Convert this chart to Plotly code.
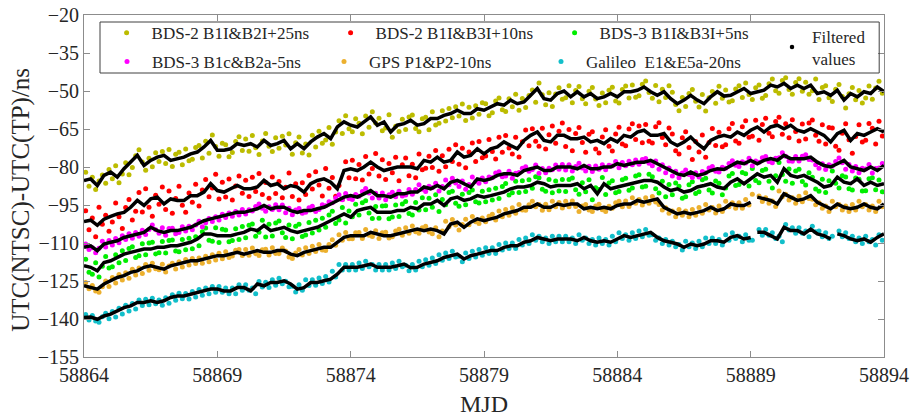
import plotly.graph_objects as go

# ---------------------------------------------------------------------------
# Time grid: filtered values every 6 h, raw comparison values every 3 h
# ---------------------------------------------------------------------------
MJD_START = 58864
MJD_END = 58894
LINE_STEP = 0.25
RAW_STEP = 0.125

line_mjd = [MJD_START + LINE_STEP * i for i in range(121)]
raw_mjd = [MJD_START + RAW_STEP / 2 + RAW_STEP * i for i in range(240)]

series_names = [
    "BDS-2 B1I&B2I+25ns",
    "BDS-2 B1I&B3I+10ns",
    "BDS-3 B1I&B3I+5ns",
    "BDS-3 B1c&B2a-5ns",
    "GPS P1&P2-10ns",
    "Galileo  E1&E5a-20ns",
]
series_colors = ["#bcbc00", "#ff0000", "#00ee00", "#ff00ff", "#ecb02e", "#12bfca"]

# --- raw comparison values (ns), one row per day -----------------------------
raw_bds2_b2i = [
    -82.1, -87.6, -84.0, -88.9, -85.5, -83.2, -86.4, -81.0,
    -84.6, -79.5, -86.2, -82.8, -78.3, -83.1, -80.2, -75.6,
    -73.2, -78.0, -81.3, -76.5, -79.9, -74.4, -77.8, -73.9,
    -78.6, -73.1, -79.8, -75.0, -74.2, -79.1, -72.9, -77.5,
    -76.9, -72.3, -71.5, -76.4, -69.8, -74.6, -67.4, -71.9,
    -75.8, -70.6, -71.2, -76.0, -74.3, -69.9, -68.1, -73.5,
    -68.9, -73.8, -67.6, -72.4, -75.1, -69.7, -66.8, -71.8,
    -73.9, -68.5, -72.6, -67.9, -71.3, -66.9, -75.0, -70.4,
    -68.2, -74.5, -70.9, -75.3, -67.5, -72.1, -65.9, -70.6,
    -69.3, -64.4, -71.0, -66.2, -61.7, -66.8, -59.8, -64.9,
    -66.1, -61.0, -62.7, -66.9, -59.9, -64.3, -58.2, -62.6,
    -60.8, -65.7, -64.6, -59.4, -68.3, -63.9, -66.0, -61.2,
    -65.2, -60.3, -59.5, -64.8, -66.1, -61.0, -60.4, -65.3,
    -58.2, -63.4, -62.7, -57.8, -61.8, -56.9, -60.6, -56.2,
    -59.9, -55.1, -61.6, -56.4, -60.7, -55.8, -59.2, -54.6,
    -55.0, -59.8, -58.6, -53.9, -52.8, -57.4, -58.1, -53.1,
    -56.2, -51.3, -57.6, -53.0, -56.5, -51.8, -49.6, -54.4,
    -46.8, -51.5, -55.4, -50.7, -56.1, -51.2, -48.7, -53.3,
    -52.7, -47.9, -54.6, -49.8, -48.2, -53.1, -55.0, -50.1,
    -48.6, -53.2, -55.7, -50.8, -54.6, -49.7, -48.5, -53.9,
    -54.7, -49.4, -48.0, -52.8, -47.6, -52.5, -51.9, -47.3,
    -46.1, -50.6, -52.9, -47.8, -54.2, -49.3, -52.6, -47.9,
    -50.5, -55.3, -57.8, -52.6, -56.1, -51.0, -49.4, -54.0,
    -56.3, -51.4, -57.9, -52.7, -50.2, -54.8, -48.1, -52.9,
    -49.6, -54.3, -53.8, -49.2, -47.9, -52.6, -46.8, -51.4,
    -53.4, -48.7, -47.6, -52.9, -51.8, -47.1, -45.3, -49.9,
    -50.9, -45.9, -44.8, -49.4, -51.3, -46.6, -45.2, -50.1,
    -46.5, -51.3, -49.9, -45.3, -53.4, -48.6, -47.9, -52.7,
    -54.1, -49.3, -47.4, -52.2, -56.7, -51.1, -48.6, -53.5,
    -49.8, -54.7, -52.8, -48.0, -53.3, -48.8, -46.2, -50.9,
]
raw_bds2_b3i = [
    -97.3, -104.8, -100.1, -107.5, -95.9, -102.6, -99.0, -105.4,
    -101.7, -94.2, -99.6, -104.3, -96.0, -92.8, -100.9, -97.5,
    -90.1, -97.8, -88.6, -95.9, -99.4, -91.2, -94.7, -87.9,
    -96.8, -89.5, -98.3, -92.4, -87.6, -95.1, -97.9, -90.3,
    -93.9, -86.8, -95.4, -89.1, -84.9, -91.7, -88.3, -82.9,
    -92.6, -86.0, -91.8, -84.7, -93.0, -87.5, -83.6, -90.4,
    -85.2, -91.6, -84.0, -89.7, -82.6, -90.9, -86.1, -92.3,
    -83.9, -90.5, -85.7, -92.1, -88.0, -82.4, -91.6, -86.6,
    -93.0, -86.2, -90.9, -83.4, -88.7, -81.9, -87.1, -91.4,
    -80.6, -88.4, -84.1, -91.5, -87.3, -92.8, -77.9, -84.2,
    -77.3, -84.6, -79.0, -85.1, -75.9, -82.8, -80.6, -74.7,
    -83.6, -77.1, -84.9, -78.6, -82.3, -76.2, -85.4, -79.1,
    -76.4, -83.5, -78.9, -84.2, -74.9, -81.1, -80.5, -75.8,
    -80.2, -73.5, -81.7, -75.6, -79.9, -73.0, -77.8, -71.2,
    -78.9, -72.6, -80.3, -74.1, -70.5, -77.8, -69.9, -76.3,
    -75.7, -69.1, -73.9, -76.8, -68.3, -74.2, -67.6, -72.5,
    -74.9, -68.3, -76.1, -70.0, -65.4, -71.6, -64.9, -69.8,
    -71.8, -64.7, -72.9, -67.3, -63.8, -70.6, -65.9, -62.6,
    -71.9, -65.2, -73.6, -66.8, -64.4, -70.3, -74.2, -67.1,
    -66.1, -72.9, -74.5, -68.2, -65.3, -71.8, -73.7, -67.0,
    -64.3, -70.9, -71.6, -65.0, -62.9, -69.1, -63.8, -70.4,
    -63.2, -69.8, -70.5, -64.1, -62.5, -68.4, -71.2, -64.6,
    -67.0, -73.6, -74.9, -68.5, -66.1, -72.3, -77.0, -69.9,
    -74.1, -67.4, -76.2, -70.3, -64.8, -71.5, -66.3, -72.0,
    -71.2, -64.9, -62.8, -69.7, -70.6, -64.1, -61.7, -68.3,
    -67.9, -61.5, -69.4, -63.2, -60.8, -66.7, -68.1, -62.0,
    -60.4, -67.1, -62.9, -68.5, -61.3, -66.0, -69.7, -63.0,
    -68.9, -62.6, -61.4, -67.5, -69.8, -63.3, -70.9, -64.4,
    -64.6, -71.8, -73.4, -66.7, -62.9, -69.2, -74.6, -68.0,
    -63.3, -70.1, -69.4, -62.8, -64.7, -70.9, -61.9, -67.8,
]
raw_bds3_b3i = [
    -116.4, -121.5, -122.3, -117.8, -123.4, -119.2, -115.3, -119.9,
    -119.4, -114.6, -117.8, -113.1, -116.9, -112.2, -111.5, -115.7,
    -115.0, -110.3, -114.6, -110.0, -109.7, -114.3, -113.8, -109.4,
    -113.9, -109.0, -108.8, -113.2, -113.5, -108.6, -112.7, -108.1,
    -112.3, -107.5, -111.1, -105.6, -104.1, -108.9, -109.3, -104.0,
    -109.8, -104.6, -104.9, -109.5, -109.0, -104.4, -108.6, -103.5,
    -107.9, -103.0, -102.5, -107.3, -105.8, -101.0, -107.6, -102.6,
    -107.2, -102.1, -101.3, -106.0, -107.8, -102.9, -108.3, -103.4,
    -102.6, -107.4, -106.8, -101.9, -106.1, -101.0, -104.9, -100.2,
    -103.8, -98.9, -97.5, -102.3, -100.9, -96.0, -102.1, -97.4,
    -99.6, -94.7, -98.9, -94.1, -93.3, -98.2, -100.3, -95.6,
    -100.2, -95.4, -95.3, -100.4, -99.7, -95.0, -99.5, -94.6,
    -93.6, -98.4, -98.9, -94.0, -97.0, -92.1, -96.9, -92.3,
    -95.9, -91.0, -97.6, -92.8, -94.9, -90.1, -89.6, -94.3,
    -95.5, -90.8, -94.9, -90.1, -89.1, -93.7, -94.2, -89.6,
    -93.7, -89.0, -93.0, -88.4, -92.4, -87.7, -86.5, -91.1,
    -90.2, -85.6, -90.1, -85.4, -89.7, -85.0, -88.4, -83.8,
    -84.2, -88.8, -89.6, -84.9, -90.2, -85.5, -89.5, -84.9,
    -89.7, -84.9, -84.3, -89.0, -90.8, -86.2, -89.8, -85.0,
    -92.9, -88.2, -88.9, -84.1, -90.9, -86.3, -85.4, -90.2,
    -89.7, -85.0, -84.4, -89.2, -88.3, -83.6, -83.1, -87.9,
    -87.6, -82.9, -83.8, -88.6, -90.3, -85.6, -91.7, -86.9,
    -91.0, -86.3, -87.6, -92.3, -91.7, -87.0, -85.8, -90.5,
    -89.8, -85.0, -84.4, -89.1, -90.3, -85.5, -86.4, -91.0,
    -88.3, -83.6, -82.6, -87.3, -86.9, -82.2, -82.7, -87.5,
    -80.6, -85.3, -86.2, -81.4, -80.9, -85.6, -88.3, -83.5,
    -78.2, -83.0, -85.6, -80.8, -86.4, -81.6, -80.9, -85.7,
    -87.1, -82.3, -84.0, -88.7, -89.6, -84.8, -90.1, -85.4,
    -81.6, -86.4, -88.3, -83.5, -83.9, -88.6, -89.1, -84.3,
    -84.8, -89.5, -89.4, -84.6, -84.2, -89.0, -85.1, -89.8,
]
raw_bds3_b2a = [
    -110.4, -112.6, -111.9, -113.8, -112.1, -109.3, -111.6, -109.0,
    -110.8, -108.2, -109.9, -107.1, -108.6, -106.3, -108.1, -105.9,
    -107.3, -105.0, -106.6, -104.7, -102.9, -104.8, -106.2, -104.0,
    -106.9, -104.3, -104.2, -106.3, -105.9, -103.6, -105.3, -103.4,
    -104.8, -102.9, -101.4, -103.6, -102.0, -100.3, -101.5, -99.6,
    -100.9, -98.7, -99.9, -98.2, -99.4, -97.6, -98.9, -96.8,
    -98.6, -96.9, -97.4, -95.6, -94.6, -96.3, -97.5, -95.7,
    -96.8, -94.9, -96.9, -95.0, -98.1, -96.3, -98.8, -97.0,
    -96.4, -98.3, -97.9, -96.1, -95.5, -97.6, -96.8, -94.9,
    -95.3, -93.7, -94.1, -92.2, -91.0, -92.9, -90.5, -92.4,
    -92.8, -90.9, -91.5, -89.7, -88.5, -90.3, -92.2, -90.4,
    -92.2, -90.3, -92.9, -91.0, -90.0, -91.7, -89.6, -91.4,
    -91.1, -88.9, -90.8, -88.9, -87.0, -88.8, -89.7, -87.6,
    -88.2, -86.4, -89.5, -87.7, -85.1, -87.0, -84.4, -86.3,
    -87.7, -85.5, -88.8, -86.9, -83.9, -85.7, -86.4, -84.3,
    -85.8, -83.9, -84.2, -82.4, -81.9, -83.8, -83.6, -81.7,
    -84.4, -82.5, -82.2, -80.5, -79.9, -81.7, -81.0, -79.2,
    -82.5, -80.6, -82.3, -80.5, -81.1, -79.2, -80.9, -79.0,
    -81.2, -79.1, -81.6, -79.8, -78.5, -80.4, -81.6, -79.7,
    -81.8, -79.6, -80.9, -79.1, -81.1, -79.3, -79.6, -77.8,
    -80.3, -78.2, -79.5, -77.7, -79.1, -77.2, -78.9, -77.0,
    -76.6, -78.5, -79.5, -77.6, -80.9, -79.1, -82.3, -80.4,
    -83.6, -81.7, -84.2, -82.4, -81.2, -83.0, -84.1, -82.3,
    -83.9, -81.8, -82.3, -80.4, -79.8, -81.7, -82.0, -80.1,
    -80.5, -78.6, -77.5, -79.3, -79.8, -77.9, -78.4, -76.5,
    -79.5, -77.6, -78.1, -76.3, -75.9, -77.8, -78.3, -76.5,
    -76.3, -74.4, -75.8, -77.6, -77.7, -75.9, -77.6, -75.8,
    -75.2, -77.0, -77.2, -79.1, -80.5, -78.7, -81.0, -79.1,
    -79.6, -77.8, -76.4, -78.3, -80.9, -79.0, -81.6, -79.8,
    -82.3, -80.5, -80.8, -79.0, -82.4, -80.6, -80.4, -78.6,
]
raw_gps_p1p2 = [
    -125.6, -128.1, -126.8, -128.9, -129.4, -127.3, -125.0, -127.2,
    -123.6, -125.8, -122.4, -124.6, -121.7, -123.9, -120.4, -122.6,
    -119.9, -122.0, -118.5, -120.8, -118.0, -120.2, -120.6, -118.4,
    -121.4, -119.1, -118.0, -120.3, -117.4, -119.5, -116.5, -118.7,
    -116.1, -118.1, -115.9, -118.0, -115.2, -117.4, -114.6, -116.7,
    -114.0, -116.2, -113.5, -115.7, -115.1, -112.9, -112.6, -114.9,
    -112.6, -114.8, -112.0, -114.2, -114.9, -112.7, -112.5, -114.7,
    -111.9, -114.1, -114.2, -112.0, -113.2, -115.5, -116.1, -113.9,
    -112.6, -114.7, -111.9, -114.1, -111.3, -113.4, -110.6, -112.8,
    -113.0, -110.6, -108.7, -110.9, -106.7, -108.9, -105.9, -108.3,
    -108.3, -106.0, -105.9, -108.2, -104.7, -106.9, -107.4, -105.2,
    -108.2, -106.0, -105.8, -108.0, -107.5, -105.3, -104.6, -106.9,
    -104.0, -106.2, -103.3, -105.6, -106.2, -104.0, -103.4, -105.7,
    -106.3, -104.0, -107.5, -105.3, -101.4, -103.6, -100.7, -102.9,
    -104.9, -102.7, -100.6, -102.8, -99.5, -101.6, -102.3, -100.1,
    -101.6, -99.4, -98.7, -100.9, -97.4, -99.6, -96.8, -99.0,
    -96.1, -98.3, -94.8, -97.0, -97.1, -94.9, -93.5, -95.7,
    -94.8, -97.1, -94.7, -96.9, -93.5, -95.7, -94.0, -96.2,
    -93.5, -95.7, -93.4, -95.6, -97.6, -95.4, -94.8, -97.0,
    -97.6, -95.4, -94.7, -96.9, -97.6, -95.5, -96.3, -94.1,
    -93.5, -95.7, -93.4, -95.6, -92.1, -94.3, -92.8, -95.0,
    -92.1, -94.3, -91.6, -93.8, -94.8, -97.0, -96.1, -98.3,
    -97.4, -99.6, -96.8, -99.0, -97.4, -99.6, -96.8, -99.0,
    -96.0, -98.3, -94.8, -97.0, -96.0, -98.2, -95.4, -97.6,
    -93.5, -95.7, -94.1, -96.3, -94.1, -96.3, -92.8, -95.0,
    -90.8, None, -91.4, -93.6, -92.1, -94.3, -93.4, -95.6,
    -89.5, -91.7, -90.8, -93.0, -92.1, -94.3, -91.5, -93.7,
    -90.2, -92.4, -92.7, -94.9, -94.1, -96.3, -95.4, -97.6,
    -93.5, -95.7, -94.8, -97.0, -95.4, -97.6, -94.8, -97.0,
    -93.5, -95.7, -94.8, -97.0, -95.4, -97.6, -93.5, -95.7,
]
raw_gal_e5a = [
    -138.2, -140.4, -138.6, -140.8, -141.3, -139.1, -137.7, -139.9,
    -137.0, -139.2, -135.8, -138.0, -134.6, -136.8, -133.9, -136.1,
    -132.5, -134.7, -132.2, -134.4, -131.8, -134.0, -132.5, -134.6,
    -131.6, -133.8, -130.4, -132.6, -129.8, -132.0, -129.9, -132.1,
    -129.1, -131.3, -128.4, -130.6, -127.8, -130.0, -127.2, -129.4,
    -127.2, -129.4, -127.8, -130.0, -127.8, -130.0, -126.5, -128.7,
    -126.5, -128.7, -127.8, -130.0, -125.2, -127.4, -125.5, -127.6,
    -124.5, -126.7, -123.9, -126.1, -125.1, -127.3, -127.1, -129.3,
    -126.5, -128.7, -124.5, -126.8, -124.5, -126.7, -123.8, -126.0,
    -123.2, -125.4, -121.2, -123.4, -118.5, -120.7, -118.5, -120.7,
    -118.5, -120.7, -117.9, -120.1, -117.2, -119.4, -118.5, -120.7,
    -118.5, -120.7, -118.5, -120.7, -117.9, -120.1, -117.2, -119.4,
    -118.8, -121.0, -118.5, -120.7, -117.2, -119.4, -116.6, -118.8,
    -115.9, -118.1, -114.6, -116.8, -113.9, -116.1, -113.3, -115.5,
    -115.2, -117.4, -113.9, -116.1, -113.3, -115.5, -112.6, -114.8,
    -111.9, -114.1, -111.9, -114.1, -110.6, -112.8, -110.0, -112.2,
    -110.0, -112.2, -108.6, -110.8, -108.0, -110.2, -106.7, -108.9,
    -107.3, -109.5, -108.0, -110.2, -107.3, -109.5, -107.3, -109.5,
    -107.3, -109.5, -108.0, -110.2, -106.7, -108.9, -108.0, -110.2,
    -108.6, -110.8, -108.0, -110.2, -108.6, -110.8, -107.3, -109.5,
    -106.0, -108.2, -106.7, -108.9, -106.0, -108.2, -105.3, -107.5,
    -104.7, -106.9, -106.7, -108.9, -108.0, -110.2, -108.6, -110.8,
    -109.3, -111.5, -110.6, -112.8, -109.3, -111.5, -110.0, -112.2,
    -109.3, -111.5, -108.0, -110.2, -108.0, -110.2, -108.6, -110.8,
    -106.7, -108.9, -106.0, -108.2, -107.3, -109.5, -106.7, -108.9,
    -108.9, None, -104.7, -106.9, -104.7, -106.9, -106.0, -108.2,
    -107.3, -109.5, -102.7, -104.9, -104.0, -106.2, -104.0, -106.2,
    -105.3, -107.5, -103.4, -105.6, -105.3, -107.5, -106.0, -108.2,
    -107.3, None, -105.3, -107.5, -106.0, -108.2, -107.3, -109.5,
    -108.0, -110.2, -107.3, -109.5, -108.6, -110.8, -106.7, -108.9,
]

# --- filtered values (ns), 6-hourly ------------------------------------------
flt_bds2_b2i = [
    -85.3, -84.7, -87.3, -83.3, -82.0, -84.0, -80.7, -78.1, -75.4, -79.4,
    -77.4, -76.1, -75.4, -77.4, -76.7, -76.1, -74.8, -74.1, -72.1, -69.5,
    -73.4, -73.4, -72.8, -70.8, -71.5,
    -70.8, -72.1, -69.5, -71.5, -70.8, -69.5, -72.8, -70.8, -72.8, -70.1,
    -68.2, -66.8, -68.8, -64.2, -62.2, -63.5, -64.2, -62.2, -60.2, -63.5,
    -62.2, -66.2, -63.5, -62.9,
    -61.6, -63.5, -62.9, -60.9, -60.9, -59.6, -58.9, -57.6, -58.9, -58.9,
    -57.0, -57.6, -56.3, -55.0, -55.6, -53.6, -55.0, -54.3, -51.7, -49.0,
    -53.0, -53.6, -51.0, -50.0,
    -52.3, -50.3, -52.3, -51.0, -53.0, -52.3, -51.0, -52.3, -50.3, -50.3,
    -49.7, -48.4, -50.3, -51.7, -50.3, -53.0, -55.0, -53.6, -51.7, -53.6,
    -55.0, -52.3, -50.3, -52.0,
    -51.7, -50.3, -49.0, -51.0, -50.3, -49.7, -47.7, -48.4, -47.0, -49.0,
    -47.7, -49.0, -47.7, -51.0, -50.3, -51.7, -49.7, -53.6, -51.0, -52.3,
    -50.3, -51.0, -48.4, -50.3,
]
flt_bds2_b3i = [
    -101.5, -101.0, -103.0, -100.6, -99.5, -98.5, -97.9, -95.9, -93.2, -95.2,
    -92.6, -91.9, -94.6, -92.6, -93.2, -93.2, -91.3, -91.3, -89.9, -86.6,
    -89.3, -89.9, -88.6, -87.3, -88.6,
    -88.6, -87.9, -85.3, -87.3, -86.6, -88.6, -87.3, -87.9, -89.9, -86.6,
    -85.3, -84.7, -86.0, -88.6, -81.4, -80.7, -81.4, -80.0, -78.1, -80.0,
    -81.4, -80.7, -80.0, -80.0,
    -80.0, -80.7, -77.4, -78.1, -76.1, -78.1, -77.4, -74.1, -76.1, -75.4,
    -72.8, -74.8, -72.8, -72.1, -70.1, -71.5, -72.8, -69.5, -67.5, -66.2,
    -69.5, -70.1, -67.5, -67.5,
    -68.8, -68.8, -68.2, -70.1, -69.5, -70.8, -68.8, -70.1, -67.5, -68.2,
    -66.2, -65.5, -67.5, -67.5, -66.8, -70.1, -71.5, -70.1, -68.2, -70.8,
    -72.8, -69.5, -68.2, -67.5,
    -68.2, -66.2, -67.5, -65.5, -64.2, -66.2, -64.2, -63.5, -64.9, -63.5,
    -65.5, -66.2, -64.9, -66.2, -67.5, -70.1, -66.8, -65.5, -69.5, -66.8,
    -67.5, -66.2, -64.9, -66.2,
]
flt_bds3_b3i = [
    -119.0, -119.6, -121.0, -117.7, -117.0, -115.7, -114.4, -113.7, -113.0, -112.4,
    -112.4, -111.7, -111.7, -111.1, -111.1, -110.4, -109.7, -108.4, -106.4, -106.4,
    -107.1, -107.1, -107.1, -106.4, -105.8,
    -104.5, -105.1, -103.1, -105.1, -104.5, -103.8, -105.1, -105.8, -105.1, -104.5,
    -103.8, -102.5, -101.2, -99.8, -98.5, -99.8, -97.2, -96.5, -95.9, -97.9,
    -97.9, -97.9, -97.2, -97.2,
    -95.9, -96.5, -94.6, -94.6, -93.2, -95.2, -92.6, -91.9, -93.2, -92.6,
    -91.3, -91.9, -91.3, -90.6, -89.9, -88.6, -87.9, -87.9, -87.3, -86.0,
    -86.6, -87.9, -87.3, -87.3,
    -87.3, -86.6, -88.6, -87.3, -90.6, -86.6, -88.6, -87.9, -87.3, -86.6,
    -86.0, -85.3, -85.3, -86.0, -87.9, -89.3, -88.6, -89.9, -89.3, -87.9,
    -87.3, -86.6, -87.9, -88.5,
    -86.0, -84.7, -86.6, -84.7, -82.7, -84.0, -83.3, -86.0, -80.7, -83.3,
    -84.0, -83.3, -84.7, -86.0, -87.9, -87.3, -84.0, -86.0, -86.6, -84.7,
    -87.3, -86.0, -87.3, -86.6,
]
flt_bds3_b2a = [
    -111.7, -111.1, -113.0, -110.4, -109.7, -109.1, -107.8, -107.1, -106.4, -105.8,
    -103.8, -105.1, -105.8, -105.1, -105.1, -104.5, -103.8, -102.5, -101.2, -100.5,
    -99.8, -99.2, -98.5, -97.9, -97.9,
    -97.2, -96.5, -95.2, -96.5, -95.9, -95.9, -97.2, -97.9, -97.2, -97.2,
    -96.5, -95.9, -94.6, -93.2, -91.9, -91.3, -91.9, -90.6, -89.3, -91.3,
    -91.3, -91.9, -90.6, -90.6,
    -89.9, -89.9, -87.9, -88.6, -87.3, -88.6, -86.0, -85.3, -86.6, -87.9,
    -84.7, -85.3, -84.7, -83.3, -82.7, -82.7, -83.3, -81.4, -80.7, -80.0,
    -81.4, -81.4, -80.0, -80.0,
    -80.0, -80.7, -79.4, -80.7, -80.7, -80.0, -80.0, -78.7, -79.4, -78.7,
    -78.1, -78.1, -77.4, -78.7, -80.0, -81.4, -82.7, -83.3, -82.0, -83.3,
    -82.7, -81.4, -80.7, -81.0,
    -79.4, -78.1, -78.7, -77.4, -78.7, -77.4, -76.7, -77.4, -75.4, -76.7,
    -76.7, -76.7, -76.1, -78.1, -79.4, -80.0, -78.7, -77.4, -80.0, -80.7,
    -81.4, -80.0, -81.4, -79.4,
]
flt_gps_p1p2 = [
    -126.9, -127.6, -128.2, -126.2, -124.9, -123.6, -122.9, -121.6, -121.0, -119.6,
    -119.0, -119.6, -120.3, -119.0, -118.3, -117.7, -117.0, -117.0, -116.3, -115.7,
    -115.0, -115.0, -114.4, -113.7, -114.4,
    -113.7, -113.0, -113.7, -113.7, -113.0, -113.0, -114.4, -115.0, -113.7, -113.0,
    -112.4, -111.7, -111.7, -109.7, -107.8, -107.1, -107.1, -107.1, -105.8, -106.4,
    -107.1, -107.1, -106.4, -105.8,
    -105.1, -104.5, -105.1, -104.5, -105.1, -106.4, -102.5, -101.8, -103.8, -101.8,
    -100.5, -101.2, -100.5, -99.8, -98.5, -97.9, -97.2, -95.9, -95.9, -94.6,
    -95.9, -95.9, -94.6, -95.2,
    -94.6, -94.6, -96.5, -95.9, -96.5, -95.9, -96.5, -95.2, -94.6, -94.6,
    -93.2, -93.9, -93.2, -92.6, -95.9, -97.2, -98.5, -97.9, -98.5, -97.9,
    -97.2, -95.9, -97.2, -96.5,
    -94.6, -95.2, -95.2, -93.9, -91.9, -92.6, -93.2, -94.6, -90.6, -91.9,
    -93.2, -92.6, -91.3, -93.9, -95.2, -96.5, -94.6, -95.9, -96.5, -95.9,
    -94.6, -95.9, -96.5, -94.6,
]
flt_gal_e5a = [
    -139.4, -139.2, -140.1, -138.8, -138.1, -136.8, -135.5, -134.8, -133.5, -133.5,
    -132.8, -133.5, -132.8, -131.5, -130.9, -130.9, -130.2, -129.5, -128.9, -128.2,
    -128.2, -128.9, -128.9, -127.6, -127.6,
    -128.9, -126.2, -126.9, -125.6, -125.6, -124.9, -126.2, -128.2, -127.6, -125.6,
    -125.6, -124.9, -124.3, -122.3, -119.6, -119.6, -119.6, -119.0, -118.3, -119.6,
    -119.6, -119.6, -119.0, -118.3,
    -119.8, -119.6, -118.3, -117.7, -117.0, -115.7, -115.0, -114.4, -116.3, -115.0,
    -114.4, -113.7, -113.0, -113.0, -111.7, -111.1, -111.1, -109.7, -109.1, -107.8,
    -108.4, -109.1, -108.4, -108.4,
    -108.4, -109.1, -107.8, -109.1, -109.7, -109.1, -109.7, -108.4, -107.1, -107.8,
    -107.1, -106.4, -105.8, -107.8, -109.1, -109.7, -110.4, -111.7, -110.4, -111.1,
    -110.4, -109.1, -109.1, -109.7,
    -107.8, -107.1, -108.4, -107.8, -105.8, -105.8, -107.1, -108.4, -103.8, -105.1,
    -105.1, -106.4, -104.5, -106.4, -107.1, -108.4, -106.4, -107.1, -108.4, -109.1,
    -108.4, -109.7, -107.8, -106.4,
]

raw_values = [raw_bds2_b2i, raw_bds2_b3i, raw_bds3_b3i,
              raw_bds3_b2a, raw_gps_p1p2, raw_gal_e5a]
filtered_values = [flt_bds2_b2i, flt_bds2_b3i, flt_bds3_b3i,
                   flt_bds3_b2a, flt_gps_p1p2, flt_gal_e5a]

# data outages (MJD) where the filtered curve is interrupted
outages = [[], [], [], [], [58889.125], [58889.125, 58892.125]]


def with_breaks(xs, ys, breaks):
    """Insert None at outage epochs so the line is drawn with gaps."""
    bx, by = [], []
    for i, (x, y) in enumerate(zip(xs, ys)):
        bx.append(x)
        by.append(y)
        if i + 1 < len(xs):
            for b in breaks:
                if x < b < xs[i + 1]:
                    bx.append(b)
                    by.append(None)
    return bx, by


FONT = "Liberation Serif, Times New Roman, serif"
TEXT = "#262626"
FRAME = "#8c8c8c"

fig = go.Figure()

# raw values as small dots; first three keys on the upper legend row
for k, (name, color, vals) in enumerate(zip(series_names, series_colors, raw_values)):
    fig.add_trace(go.Scatter(
        x=raw_mjd, y=vals, mode="markers", name=name,
        marker=dict(color=color, size=5, line=dict(width=0)),
        legend="legend" if k < 3 else "legend3",
    ))

# filtered curves in black on top
for vals, gaps in zip(filtered_values, outages):
    bx, by = with_breaks(line_mjd, vals, gaps)
    fig.add_trace(go.Scatter(
        x=bx, y=by, mode="lines", showlegend=False,
        line=dict(color="black", width=3.5), connectgaps=False,
    ))

# legend key for the filtered curves
fig.add_trace(go.Scatter(
    x=[None], y=[None], mode="markers", name="Filtered<br>values",
    marker=dict(color="black", size=4.5), legend="legend2",
))


def legend_row(x, y, entrywidth):
    return dict(
        x=x, y=y, xanchor="left", yanchor="middle",
        orientation="h", bgcolor="rgba(0,0,0,0)", borderwidth=0,
        font=dict(family=FONT, size=17, color=TEXT),
        itemwidth=40, entrywidthmode="pixels", entrywidth=entrywidth,
    )


fig.update_layout(
    width=913, height=419,
    margin=dict(l=84, r=29, t=15, b=62),
    paper_bgcolor="white", plot_bgcolor="white",
    font=dict(family=FONT, size=20, color=TEXT),
    xaxis=dict(
        range=[MJD_START, MJD_END],
        tickvals=list(range(MJD_START, MJD_END + 1, 5)),
        tickformat="d",
        ticks="inside", ticklen=6, tickcolor=FRAME,
        showline=True, linecolor=FRAME, linewidth=1, mirror="ticks",
        showgrid=False, zeroline=False, automargin=False,
        title=dict(text="MJD", standoff=10),
        tickfont=dict(size=20),
    ),
    yaxis=dict(
        range=[-155, -20],
        tickvals=list(range(-155, -19, 15)),
        ticks="inside", ticklen=6, tickcolor=FRAME,
        showline=True, linecolor=FRAME, linewidth=1, mirror="ticks",
        showgrid=False, zeroline=False, automargin=False,
        tickfont=dict(size=20),
    ),
    annotations=[dict(
        text="UTC(NTSC)-UTC(TP)/ns", textangle=-90,
        xref="paper", yref="paper", x=-0.079, y=0.459,
        xanchor="center", yanchor="middle", showarrow=False,
        font=dict(family=FONT, size=25, color=TEXT),
    )],
    legend=legend_row(0.022, 0.947, 169),
    legend3=legend_row(0.0225, 0.8626, 162),
    legend2=dict(
        x=0.86, y=0.905, xanchor="left", yanchor="middle",
        bgcolor="rgba(0,0,0,0)", borderwidth=0, itemwidth=30,
        font=dict(family=FONT, size=17, color=TEXT),
    ),
    shapes=[dict(
        type="rect", xref="paper", yref="paper",
        x0=0.02, x1=0.994, y0=0.8304, y1=0.9795,
        line=dict(color="#404040", width=1), fillcolor="rgba(0,0,0,0)",
    )],
)

fig.write_html("out.html")
